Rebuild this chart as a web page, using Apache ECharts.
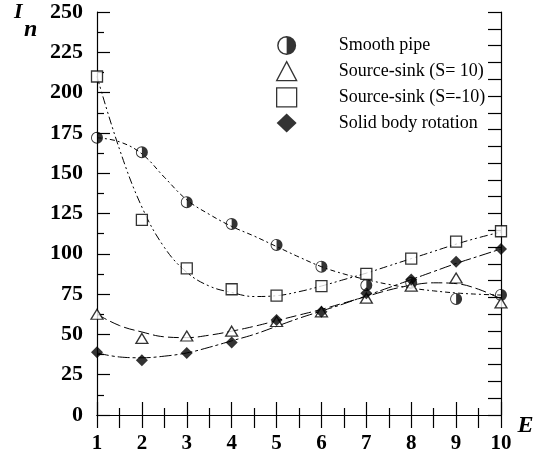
<!DOCTYPE html>
<html>
<head>
<meta charset="utf-8">
<script src="https://cdn.jsdelivr.net/npm/echarts@6/dist/echarts.min.js"></script>
<style>html,body{margin:0;padding:0;background:#fff}#c{width:537px;height:459px}</style>
</head>
<body>
<div id="c"></div>
<script>
// ---- data ----
const E = [1, 2, 3, 4, 5, 6, 7, 8, 9, 10];
const smoothPipe   = [172, 163, 132, 118.5, 105.5, 92, 80.5, 82, 72, 74.5];
const sourceSinkP  = [62.5, 47.5, 49, 52, 58, 64, 72.5, 80, 85, 69.5];
const sourceSinkN  = [210, 121, 91, 78, 74, 80, 87.5, 97, 107.5, 114];
const solidBody    = [39, 34, 38.5, 45, 59, 64, 75.5, 84, 95, 103];

// fitted curves, read at half steps of E
const curveE = [1, 1.5, 2, 2.5, 3, 3.5, 4, 4.5, 5, 5.5, 6, 6.5, 7, 7.5, 8, 8.5, 9, 9.5, 10];
const pipeCurve = [172, 169.5, 162, 147.5, 133.5, 124.5, 117, 111, 104.5, 98, 92, 87.5, 84, 81, 78.7, 77, 75.7, 74.9, 74.4];
const posCurve  = [62.5, 55.5, 51.5, 48.5, 48, 49.5, 52, 55, 58.5, 62, 65.5, 69.5, 73.5, 77.5, 80.5, 82, 81.5, 78, 72];
const negCurve  = [210, 165, 129, 104, 88.5, 80, 76, 73.5, 74, 76.5, 80, 84, 88, 92.5, 97, 101.5, 106, 110, 113.5];
const bodyCurve = [38.5, 36, 35.5, 36.5, 38.5, 42, 46, 50, 55, 60, 64.5, 69, 74, 79, 84, 89, 94, 98.5, 103];

const names = ['Smooth pipe', 'Source-sink (S= 10)', 'Source-sink (S=-10)', 'Solid body rotation'];
const xTicks = [1, 10, 1];
const yTicks = [0, 250, 25];

const FONT = '"Liberation Serif", "Times New Roman", serif';
const HALF = 'path://M0,-10A10,10,0,1,1,0,10A10,10,0,1,1,0,-10ZM0,-8.5A8.5,8.5,0,1,0,0,8.5A8.5,8.5,0,1,0,0,-8.5ZM0,-10A10,10,0,0,1,0,10Z';

function pairs(xs, ys) { return xs.map((x, i) => [x, ys[i]]); }

const axisLine = { show: true, lineStyle: { color: '#000', width: 1.2 } };
const tickStyle = { color: '#000', width: 1.2 };

const chart = echarts.init(document.getElementById('c'), null, { renderer: 'canvas' });

function curve(data, dash) {
  return {
    type: 'line', data: pairs(curveE, data), smooth: 0.4, showSymbol: false, silent: true,
    lineStyle: { color: '#000', width: 1, type: dash }, z: 1, legendHoverLink: false
  };
}

const openStyle = { color: '#fff', borderColor: '#000', borderWidth: 1.3 };

chart.setOption({
  animation: false,
  backgroundColor: '#fff',
  grid: { left: 97, right: 36, top: 12, bottom: 44 },
  xAxis: [{
    type: 'value', min: xTicks[0], max: xTicks[1], interval: xTicks[2],
    axisLine, splitLine: { show: false },
    axisTick: { inside: true, length: 13, lineStyle: tickStyle },
    minorTick: { show: true, splitNumber: 2, length: 7, lineStyle: tickStyle },
    axisLabel: { margin: 18, fontFamily: FONT, fontWeight: 'bold', fontSize: 21, color: '#000' },
    name: 'E', nameLocation: 'end', nameGap: 9,
    nameTextStyle: { fontFamily: FONT, fontWeight: 'bold', fontStyle: 'italic', fontSize: 24, color: '#000', verticalAlign: 'top', lineHeight: 24, padding: [-1, 0, 0, 0] }
  }, {
    type: 'value', position: 'top', min: 1, max: 10, interval: 0.5,
    axisLine, splitLine: { show: false },
    axisTick: { inside: true, length: 13, lineStyle: tickStyle },
    axisLabel: { show: false }
  }],
  yAxis: [{
    type: 'value', min: yTicks[0], max: yTicks[1], interval: yTicks[2],
    axisLine, splitLine: { show: false },
    axisTick: { inside: true, length: 13, lineStyle: tickStyle },
    minorTick: { show: true, splitNumber: 2, length: 7, lineStyle: tickStyle },
    axisLabel: { margin: 14, fontFamily: FONT, fontWeight: 'bold', fontSize: 22, color: '#000' }
  }, {
    type: 'value', position: 'right', min: 0, max: 24, interval: 1,
    axisLine, splitLine: { show: false },
    axisTick: { inside: true, length: 13, lineStyle: tickStyle },
    axisLabel: { show: false }
  }],
  legend: {
    orient: 'vertical', left: 276, top: 36, padding: 0, itemWidth: 20, itemHeight: 19, itemGap: 6,
    selectedMode: false,
    textStyle: { fontFamily: FONT, fontSize: 18, color: '#000', lineHeight: 19, padding: [0, 0, 0, 37] },
    data: [
      { name: names[0], icon: HALF, itemStyle: { color: '#000', borderWidth: 0 } },
      { name: names[1], icon: 'triangle', itemStyle: openStyle },
      { name: names[2], icon: 'rect', itemStyle: openStyle },
      { name: names[3], icon: 'diamond', itemStyle: { color: '#000', borderWidth: 0 } }
    ]
  },
  graphic: [
    { type: 'text', left: 14, top: 1, style: { text: 'I', font: 'italic bold 22px ' + FONT, fill: '#000' } },
    { type: 'text', left: 24, top: 18, style: { text: 'n', font: 'italic bold 24px ' + FONT, fill: '#000' } }
  ],
  series: [
    curve(pipeCurve, [5, 3, 2, 3]),
    curve(posCurve, [11, 4]),
    curve(negCurve, [8, 3, 2, 3, 2, 3]),
    curve(bodyCurve, [12, 3, 3, 3]),
    { name: names[0], type: 'scatter', data: pairs(E, smoothPipe), symbol: HALF, symbolSize: 12,
      itemStyle: { color: '#000', borderWidth: 0 }, z: 3 },
    { name: names[1], type: 'scatter', data: pairs(E, sourceSinkP), symbol: 'triangle', symbolSize: [12, 10],
      itemStyle: openStyle, z: 3 },
    { name: names[2], type: 'scatter', data: pairs(E, sourceSinkN), symbol: 'rect', symbolSize: 11,
      itemStyle: openStyle, z: 3 },
    { name: names[3], type: 'scatter', data: pairs(E, solidBody), symbol: 'diamond', symbolSize: 12,
      itemStyle: { color: '#000', borderWidth: 0 }, z: 3 }
  ]
});
</script>
</body>
</html>
